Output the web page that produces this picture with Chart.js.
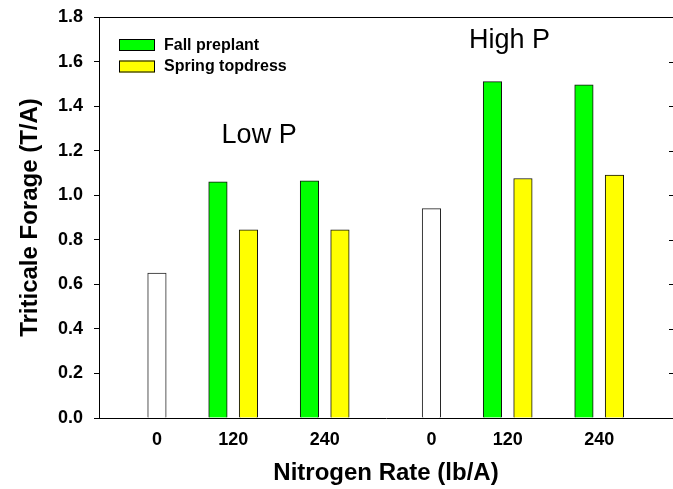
<!DOCTYPE html>
<html>
<head>
<meta charset="utf-8">
<script src="https://cdn.jsdelivr.net/npm/chart.js@4.4.0/dist/chart.umd.min.js"></script>
<style>
  html, body { margin: 0; padding: 0; background: #fff; }
</style>
</head>
<body>
<canvas id="forage" width="673" height="489"></canvas>
<script>
// tick labels along the x axis (N rate, lb/A), Low P group then High P group
const rates = ['0', '120', '240', '0', '120', '240'];
const groups = ['Low P', 'High P'];

// forage yield, T/A
const control = [0.65, 0.94];                       // 0 N: Low P, High P
const fallPreplant = [1.06, 1.065, 1.51, 1.495];    // 120, 240 Low P; 120, 240 High P
const springTopdress = [0.845, 0.845, 1.075, 1.09];

const yTicks = [0, 0.2, 0.4, 0.6, 0.8, 1.0, 1.2, 1.4, 1.6, 1.8];

// where each rate label sits on the linear x axis
const slots = [0, 2.5, 5.5, 9, 11.5, 14.5];
const fertSlots = [slots[1], slots[2], slots[4], slots[5]];

const FONT = "'Liberation Sans', Arial, Helvetica, sans-serif";

const controlPts = control.map((v, i) => ({ x: slots[i * 3], y: v }));
const fallPts = fallPreplant.map((v, i) => ({ x: fertSlots[i] - 0.5, y: v }));
const springPts = springTopdress.map((v, i) => ({ x: fertSlots[i] + 0.5, y: v }));

// group labels, anchored in data units (left edge, baseline)
const groupLabelAt = [{ x: 2.12, y: 1.234 }, { x: 10.23, y: 1.662 }];

const framePlugin = {
    id: 'frame',
    afterDraw(chart) {
        const ctx = chart.ctx;
        const area = chart.chartArea;
        const yScale = chart.scales.y;
        const xScale = chart.scales.x;
        ctx.save();
        ctx.strokeStyle = '#000';
        ctx.lineWidth = 1;
        // top line
        const top = Math.round(area.top) + 0.5;
        ctx.beginPath();
        ctx.moveTo(area.left, top);
        ctx.lineTo(chart.width, top);
        ctx.stroke();
        // inward ticks on the right edge
        yTicks.forEach(v => {
            const py = Math.round(yScale.getPixelForValue(v)) + 0.5;
            ctx.beginPath();
            ctx.moveTo(area.right - 4, py);
            ctx.lineTo(area.right, py);
            ctx.stroke();
        });

        // legend
        const items = [chart.data.datasets[1], chart.data.datasets[2]];
        ctx.font = 'bold 16px ' + FONT;
        ctx.textBaseline = 'middle';
        ctx.textAlign = 'left';
        items.forEach((ds, i) => {
            const bx = 119, by = 39 + i * 21.5;
            ctx.fillStyle = ds.backgroundColor;
            ctx.fillRect(bx, by, 36, 12);
            ctx.strokeStyle = '#000';
            ctx.strokeRect(bx + 0.5, by + 0.5, 35, 11);
            ctx.fillStyle = '#000';
            ctx.fillText(ds.label, 164, by + 6.5);
        });

        // group labels
        ctx.font = '27px ' + FONT;
        ctx.textBaseline = 'alphabetic';
        groups.forEach((g, i) => {
            ctx.fillText(g, xScale.getPixelForValue(groupLabelAt[i].x),
                yScale.getPixelForValue(groupLabelAt[i].y));
        });
        ctx.restore();
    }
};

new Chart(document.getElementById('forage'), {
    type: 'bar',
    data: {
        datasets: [{
            label: 'Control',
            data: controlPts,
            backgroundColor: '#ffffff',
            borderColor: '#222',
            borderWidth: 1,
            grouped: false,
            barThickness: 18.5
        }, {
            label: 'Fall preplant',
            data: fallPts,
            backgroundColor: '#00ff00',
            borderColor: '#111',
            borderWidth: 1,
            grouped: false,
            barThickness: 18.5
        }, {
            label: 'Spring topdress',
            data: springPts,
            backgroundColor: '#ffff00',
            borderColor: '#111',
            borderWidth: 1,
            grouped: false,
            barThickness: 18.5
        }]
    },
    options: {
        responsive: false,
        animation: false,
        layout: { padding: { top: 17, right: 0, left: 0, bottom: 0 } },
        plugins: {
            legend: { display: false },
            tooltip: { enabled: false }
        },
        scales: {
            x: {
                type: 'linear',
                min: -1.9,
                max: 16.92,
                offset: false,
                afterBuildTicks: scale => {
                    scale.ticks = slots.map(v => ({ value: v }));
                },
                afterFit: scale => {
                    scale.height = 71;
                    scale.paddingLeft = 0;
                    scale.paddingRight = 0;
                },
                grid: { display: false, drawTicks: false, offset: false },
                border: { display: true, color: '#000', width: 1 },
                ticks: {
                    padding: 11,
                    color: '#000',
                    font: { family: FONT, size: 18, weight: 'bold' },
                    maxRotation: 0,
                    autoSkip: false,
                    callback: (value, index) => rates[index]
                },
                title: {
                    display: true,
                    text: 'Nitrogen Rate (lb/A)',
                    color: '#000',
                    font: { family: FONT, size: 24, weight: 'bold' },
                    padding: { top: 0, bottom: 1 }
                }
            },
            y: {
                min: 0,
                max: 1.8,
                afterBuildTicks: scale => {
                    scale.ticks = yTicks.map(v => ({ value: v }));
                },
                afterFit: scale => {
                    scale.width = 99;
                    scale.paddingTop = 0;
                    scale.paddingBottom = 0;
                },
                grid: {
                    drawOnChartArea: false,
                    drawTicks: true,
                    tickLength: 5,
                    color: '#000'
                },
                border: { display: true, color: '#000', width: 1 },
                ticks: {
                    padding: 11,
                    color: '#000',
                    font: { family: FONT, size: 18, weight: 'bold' },
                    callback: value => value.toFixed(1)
                },
                title: {
                    display: true,
                    text: 'Triticale Forage (T/A)',
                    color: '#000',
                    font: { family: FONT, size: 24, weight: 'bold' },
                    padding: { top: 16, bottom: 0 }
                }
            }
        }
    },
    plugins: [framePlugin]
});
</script>
</body>
</html>
